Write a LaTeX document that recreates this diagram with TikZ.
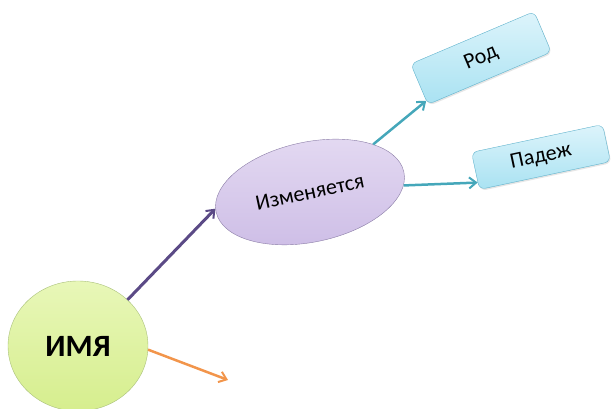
\documentclass[tikz,border=0pt]{standalone}
\usepackage{fontspec}
\setmainfont{Carlito}
\usepackage{tikz}
\usetikzlibrary{
  arrows.meta,
  shapes.geometric,
  shadows}

\definecolor{namefill}{HTML}{E8F7B8}
\definecolor{namefilldark}{HTML}{D6EE8E}
\definecolor{nameline}{HTML}{A9C07A}
\definecolor{changefill}{HTML}{E4DAF2}
\definecolor{changefilldark}{HTML}{CDBDE6}
\definecolor{changeline}{HTML}{8A7CA6}
\definecolor{boxfill}{HTML}{DDF4FB}
\definecolor{boxfilldark}{HTML}{A9E2F2}
\definecolor{boxline}{HTML}{5FB2CC}
\definecolor{purplearrow}{HTML}{5B4A86}
\definecolor{tealarrow}{HTML}{45A7BA}
\definecolor{orangearrow}{HTML}{F2954B}

\tikzset{
  namenode/.style={ellipse, draw=nameline, top color=namefill,
    bottom color=namefilldark, minimum width=140pt, minimum height=130pt,
    font=\bfseries\fontsize{31pt}{31pt}\selectfont},
  changenode/.style={ellipse, draw=changeline, top color=changefill,
    bottom color=changefilldark, minimum width=192pt, minimum height=100pt,
    font=\fontsize{22pt}{22pt}\selectfont},
  casebox/.style={rectangle, rounded corners=6pt, draw=boxline,
    top color=boxfill, bottom color=boxfilldark, minimum width=134pt,
    font=\fontsize{22pt}{22pt}\selectfont,
    drop shadow={opacity=0.2, shadow xshift=1pt, shadow yshift=-1.5pt}},
  link/.style={line width=2.5pt, -{Straight Barb[length=7pt, width=11pt, line width=2pt]}}
}

\begin{document}
\begin{tikzpicture}
\useasboundingbox (0pt,0pt) rectangle (611pt,409pt);

% nodes
\node[namenode] (imya) at (78pt,63pt) {ИМЯ};
\node[changenode, rotate=12] (izm) at (310pt,217pt) {Изменяется};
\node[casebox, rotate=23, minimum height=44pt] (rod) at (481pt,351pt) {Род};
\node[casebox, rotate=12, minimum height=38pt] (padezh) at (541pt,252pt) {Падеж};
\coordinate (free) at (228pt,29pt);

% connectors
\draw[link, purplearrow, line width=3pt] (imya.43) -- (izm.178);
\draw[link, tealarrow] (izm.25) -- (rod.195);
\draw[link, tealarrow] (izm.-8) -- (padezh.190);
\draw[link, orangearrow] (imya.-3) -- (free);

\end{tikzpicture}
\end{document}
